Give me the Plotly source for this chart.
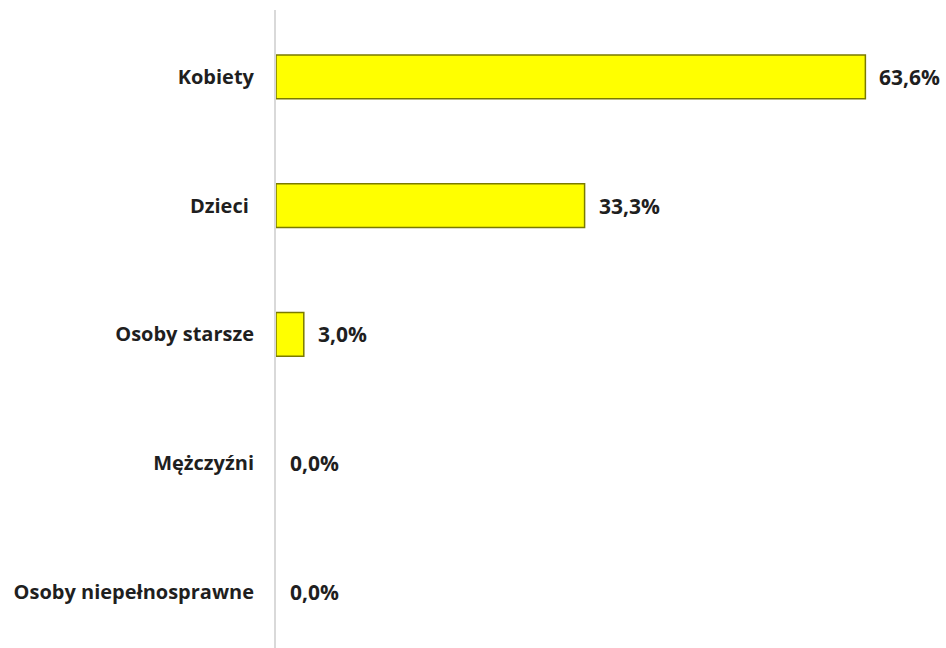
import plotly.graph_objects as go

categories = ["Kobiety", "Dzieci ", "Osoby starsze", "Mężczyźni", "Osoby niepełnosprawne"]
values = [63.6, 33.3, 3.0, 0.0, 0.0]

labels = [f"{v:.1f}%".replace(".", ",") for v in values]
# no outline on empty bars
outline = [1.5 if v > 0 else 0 for v in values]

fig = go.Figure()
fig.add_trace(
    go.Bar(
        x=values,
        y=categories,
        orientation="h",
        width=0.34,
        marker=dict(color="#ffff00", line=dict(color="#7a7a00", width=outline)),
        hoverinfo="skip",
    )
)

for v, c, t in zip(values, categories, labels):
    fig.add_annotation(
        x=v,
        y=c,
        text=f"<b>{t}</b>",
        showarrow=False,
        xanchor="left",
        xshift=12,
        font=dict(family="Open Sans", size=21, color="#1f1f1f"),
    )

fig.update_layout(
    width=946,
    height=648,
    margin=dict(l=276, r=0, t=10, b=0),
    paper_bgcolor="white",
    plot_bgcolor="white",
    showlegend=False,
    font=dict(family="Open Sans", size=20, color="#1f1f1f"),
    xaxis=dict(range=[0, 72.3], visible=False, showgrid=False, zeroline=False),
    yaxis=dict(
        range=[4.435, -0.52],
        automargin=False,
        showline=True,
        linecolor="#d9d9d9",
        linewidth=2,
        showgrid=False,
        zeroline=False,
        ticks="",
        ticklabelstandoff=16,
        tickfont=dict(family="Open Sans", size=20, color="#1f1f1f", weight="bold"),
    ),
)

fig.write_html(
    "out.html",
    config={"displayModeBar": False},
    post_script="document.body.style.margin='0';",
)
